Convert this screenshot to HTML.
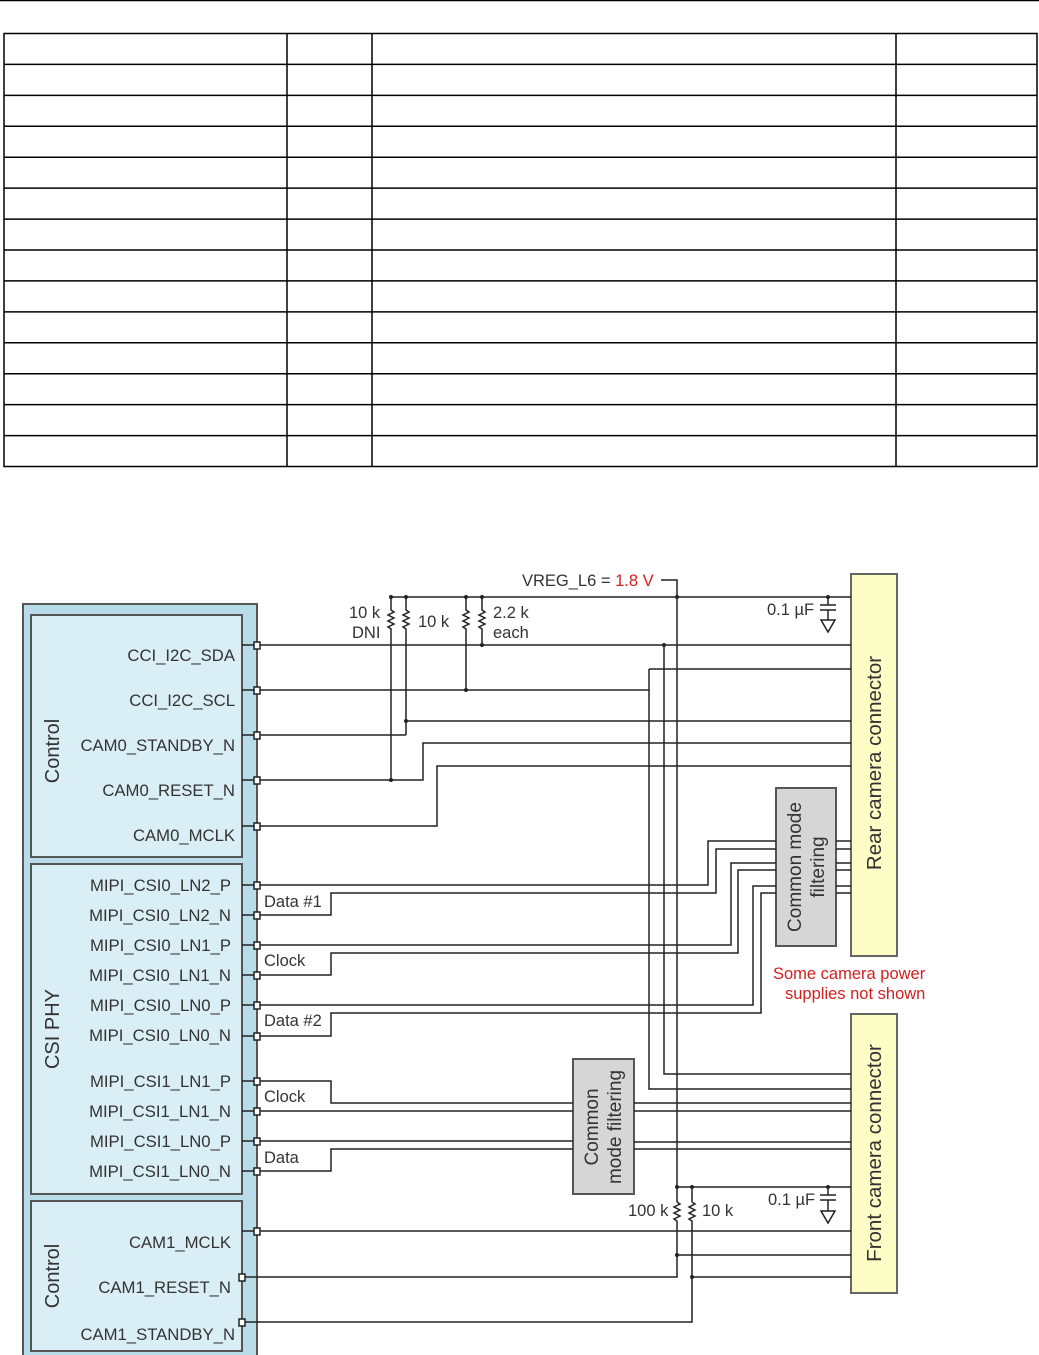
<!DOCTYPE html>
<html><head><meta charset="utf-8"><style>
html,body{margin:0;padding:0;background:#fff}
svg{display:block}
text{font-family:"Liberation Sans",sans-serif;fill:#333}
</style></head><body>
<svg width="1039" height="1355" viewBox="0 0 1039 1355" xmlns="http://www.w3.org/2000/svg">
<line x1="0" y1="0.5" x2="1039" y2="0.5" stroke="#000" stroke-width="1.5"/>
<g stroke="#000" stroke-width="1.5" fill="none">
<rect x="4" y="33.5" width="1033" height="433"/>
<line x1="287" y1="33.5" x2="287" y2="466.5"/>
<line x1="372" y1="33.5" x2="372" y2="466.5"/>
<line x1="896" y1="33.5" x2="896" y2="466.5"/>
<path d="M4 64.4H1037M4 95.4H1037M4 126.3H1037M4 157.2H1037M4 188.1H1037M4 219.1H1037M4 250H1037M4 280.9H1037M4 311.9H1037M4 342.8H1037M4 373.7H1037M4 404.6H1037M4 435.6H1037"/>
</g>

<rect x="23" y="604" width="234" height="760" fill="#b8dde9" stroke="#555" stroke-width="2"/>
<rect x="31" y="615" width="211" height="242" fill="#daeef5" stroke="#555" stroke-width="2"/>
<rect x="31" y="864" width="211" height="330" fill="#daeef5" stroke="#555" stroke-width="2"/>
<rect x="31" y="1201" width="211" height="150" fill="#daeef5" stroke="#555" stroke-width="2"/>
<text transform="translate(59,751) rotate(-90)" text-anchor="middle" font-size="20">Control</text>
<text transform="translate(59,1029) rotate(-90)" text-anchor="middle" font-size="20">CSI PHY</text>
<text transform="translate(59,1276) rotate(-90)" text-anchor="middle" font-size="20">Control</text>
<g font-size="16.7" text-anchor="end">
<text x="235" y="661">CCI_I2C_SDA</text>
<text x="235" y="706">CCI_I2C_SCL</text>
<text x="235" y="751">CAM0_STANDBY_N</text>
<text x="235" y="796">CAM0_RESET_N</text>
<text x="235" y="841">CAM0_MCLK</text>
<text x="231" y="891">MIPI_CSI0_LN2_P</text>
<text x="231" y="921">MIPI_CSI0_LN2_N</text>
<text x="231" y="951">MIPI_CSI0_LN1_P</text>
<text x="231" y="981">MIPI_CSI0_LN1_N</text>
<text x="231" y="1011">MIPI_CSI0_LN0_P</text>
<text x="231" y="1041">MIPI_CSI0_LN0_N</text>
<text x="231" y="1087">MIPI_CSI1_LN1_P</text>
<text x="231" y="1117">MIPI_CSI1_LN1_N</text>
<text x="231" y="1147">MIPI_CSI1_LN0_P</text>
<text x="231" y="1177">MIPI_CSI1_LN0_N</text>
<text x="231" y="1248">CAM1_MCLK</text>
<text x="231" y="1293">CAM1_RESET_N</text>
<text x="235" y="1340">CAM1_STANDBY_N</text>
</g>

<rect x="851" y="574" width="46" height="382" fill="#fdfdc6" stroke="#666" stroke-width="2"/>
<rect x="851" y="1014" width="46" height="279" fill="#fdfdc6" stroke="#666" stroke-width="2"/>
<text transform="translate(881,763) rotate(-90)" text-anchor="middle" font-size="20.5">Rear camera connector</text>
<text transform="translate(881,1153) rotate(-90)" text-anchor="middle" font-size="20.5">Front camera connector</text>

<rect x="776" y="788" width="60" height="158" fill="#d6d6d6" stroke="#555" stroke-width="2"/>
<text transform="translate(801,867) rotate(-90)" text-anchor="middle" font-size="19">Common mode</text>
<text transform="translate(824,867) rotate(-90)" text-anchor="middle" font-size="19">filtering</text>
<rect x="573" y="1059" width="61" height="135" fill="#d6d6d6" stroke="#555" stroke-width="2"/>
<text transform="translate(598,1127) rotate(-90)" text-anchor="middle" font-size="19">Common</text>
<text transform="translate(621,1127) rotate(-90)" text-anchor="middle" font-size="19">mode filtering</text>

<g stroke="#222" stroke-width="1.5" fill="none">
<path d="M242 645H257M242 690H257M242 735H257M242 780H257M242 826H257M242 885H257M242 915H257M242 945H257M242 975H257M242 1005H257M242 1036H257M242 1081H257M242 1111H257M242 1141H257M242 1171H257M242 1231H257"/>
<path d="M391 597H851M661 580H677V1202"/>
<path d="M391 597V610l3 2l-6 3l6 3l-6 3l6 3l-6 3l3 2V780"/>
<path d="M406 597V610l3 2l-6 3l6 3l-6 3l6 3l-6 3l3 2V735"/>
<path d="M466 597V610l3 2l-6 3l6 3l-6 3l6 3l-6 3l3 2V690"/>
<path d="M482 597V610l3 2l-6 3l6 3l-6 3l6 3l-6 3l3 2V645"/>
<path d="M257 645H851M664 645V1074H851"/>
<path d="M257 690H649M649 669V1089H851M649 669H851"/>
<path d="M257 735H406M406 721H851"/>
<path d="M257 780H423V743H851"/>
<path d="M257 826H437V766H851"/>
<path d="M828 597V605M820 605H836M820 610H836M828 610V620M821 620H835L828 632Z"/>
<path d="M257 885H708V841H776"/>
<path d="M257 915H331V893H716V849H776"/>
<path d="M257 945H731V863H776"/>
<path d="M257 975H331V953H738V870H776"/>
<path d="M257 1005H753V886H776"/>
<path d="M257 1036H331V1013H761V893H776"/>
<path d="M836 841H851M836 849H851M836 863H851M836 870H851M836 886H851M836 893H851"/>
<path d="M257 1081H331V1103H573M257 1111H573M257 1141H573M257 1171H331V1149H573"/>
<path d="M634 1103H851M634 1111H851M634 1142H851M634 1149H851"/>
<path d="M257 1231H851"/>
<path d="M677 1187H851M692 1187V1202"/>
<path d="M677 1202l3 2l-6 3l6 3l-6 3l6 3l-6 3l3 2V1277H242M677 1255H851"/>
<path d="M692 1202l3 2l-6 3l6 3l-6 3l6 3l-6 3l3 2V1322H242M692 1277H851"/>
<path d="M828 1187V1195M820 1195H836M820 1200H836M828 1200V1211M821 1211H835L828 1223Z"/>
</g>
<g fill="#222">
<circle cx="391" cy="597" r="2"/><circle cx="406" cy="597" r="2"/><circle cx="466" cy="597" r="2"/><circle cx="482" cy="597" r="2"/><circle cx="677" cy="597" r="2"/><circle cx="828" cy="597" r="2"/>
<circle cx="482" cy="645" r="2"/><circle cx="664" cy="645" r="2"/><circle cx="466" cy="690" r="2"/><circle cx="406" cy="721" r="2"/><circle cx="391" cy="780" r="2"/>
<circle cx="677" cy="1187" r="2"/><circle cx="692" cy="1187" r="2"/><circle cx="828" cy="1187" r="2"/><circle cx="677" cy="1255" r="2"/><circle cx="692" cy="1277" r="2"/>
</g>
<g fill="#fff" stroke="#222" stroke-width="1.5">
<rect x="254" y="642" width="6" height="7"/><rect x="254" y="687" width="6" height="7"/><rect x="254" y="732" width="6" height="7"/><rect x="254" y="777" width="6" height="7"/><rect x="254" y="823" width="6" height="7"/>
<rect x="254" y="882" width="6" height="7"/><rect x="254" y="912" width="6" height="7"/><rect x="254" y="942" width="6" height="7"/><rect x="254" y="972" width="6" height="7"/><rect x="254" y="1002" width="6" height="7"/><rect x="254" y="1033" width="6" height="7"/>
<rect x="254" y="1078" width="6" height="7"/><rect x="254" y="1108" width="6" height="7"/><rect x="254" y="1138" width="6" height="7"/><rect x="254" y="1168" width="6" height="7"/>
<rect x="254" y="1228" width="6" height="7"/><rect x="239" y="1274" width="6" height="7"/><rect x="239" y="1319" width="6" height="7"/>
</g>
<g font-size="16.5">
<text x="264" y="907">Data #1</text>
<text x="264" y="966">Clock</text>
<text x="264" y="1026">Data #2</text>
<text x="264" y="1102">Clock</text>
<text x="264" y="1163">Data</text>
<text x="349" y="618">10 k</text>
<text x="352" y="638">DNI</text>
<text x="418" y="627">10 k</text>
<text x="493" y="618">2.2 k</text>
<text x="493" y="638">each</text>
<text x="522" y="586">VREG_L6 = <tspan style="fill:#d42020">1.8 V</tspan></text>
<text x="767" y="615">0.1 µF</text>
<text x="628" y="1216">100 k</text>
<text x="702" y="1216">10 k</text>
<text x="768" y="1205">0.1 µF</text>
<text x="773" y="979" style="fill:#d42020">Some camera power</text>
<text x="785" y="999" style="fill:#d42020">supplies not shown</text>
</g>
</svg>
</body></html>
